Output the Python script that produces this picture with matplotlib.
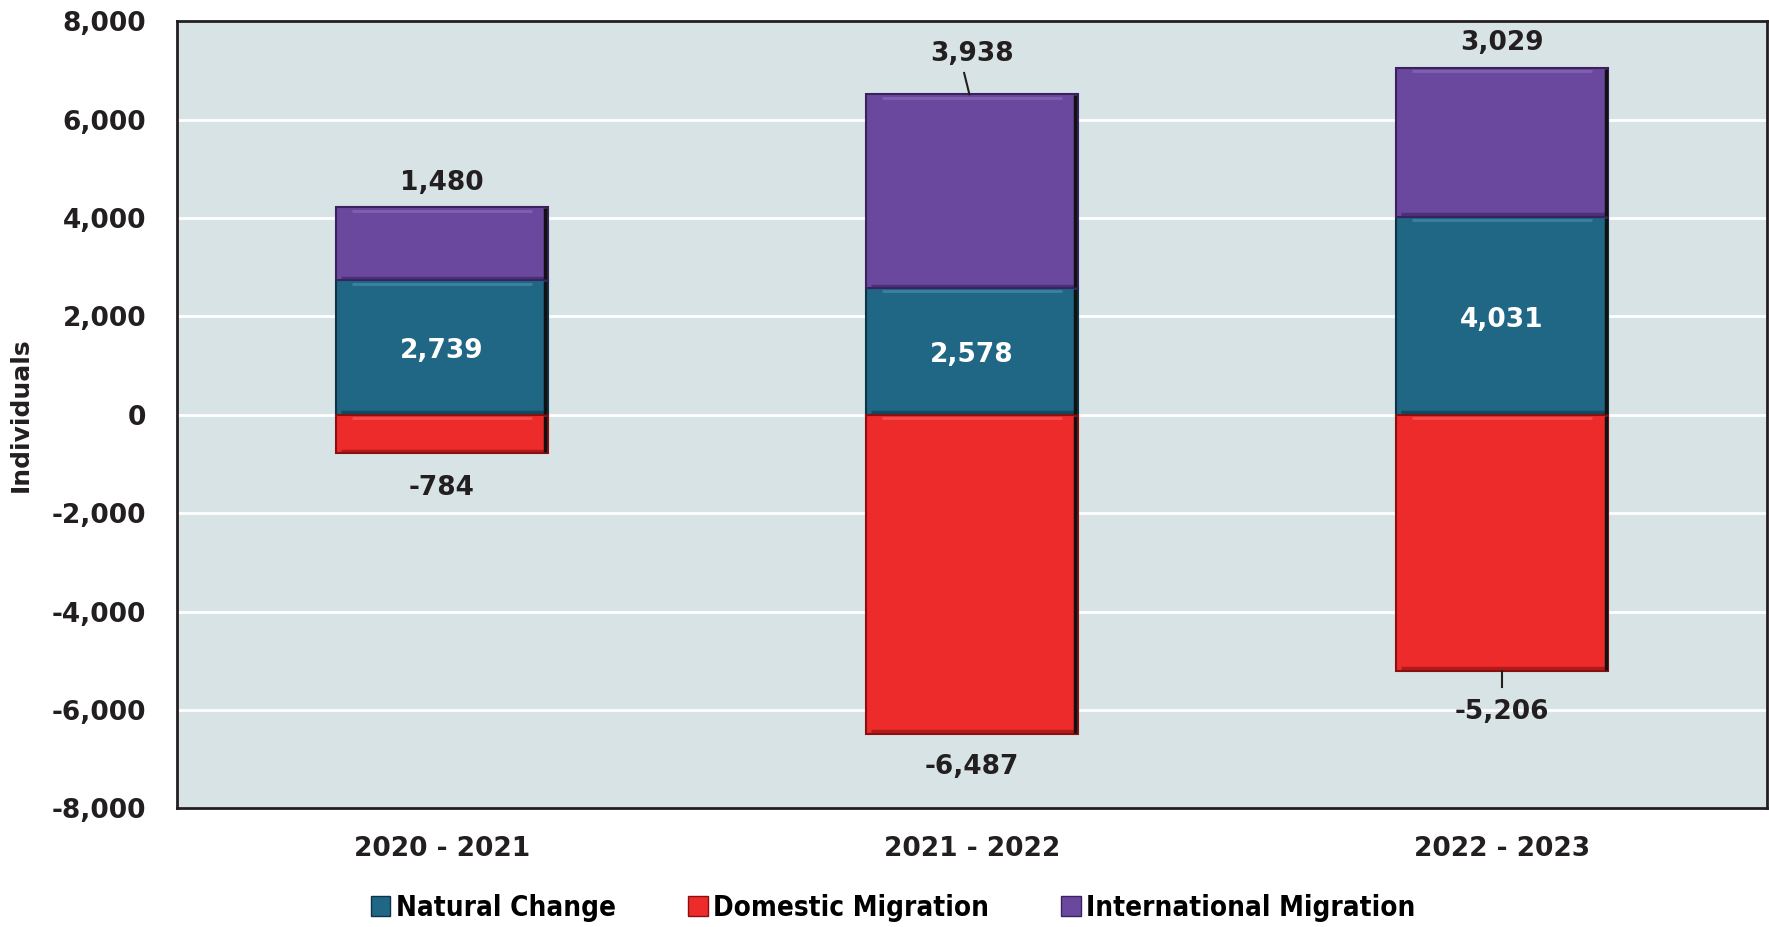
import numpy as np
import matplotlib.pyplot as plt
from matplotlib.patches import Patch

periods = ['2020 - 2021', '2021 - 2022', '2022 - 2023']
natural = [2739, 2578, 4031]
domestic = [-784, -6487, -5206]
international = [1480, 3938, 3029]

c_nat = '#1f6785'
c_dom = '#ee2b2b'
c_int = '#6a489d'
bg = '#d7e3e4'
ink = '#231f20'

plt.rcParams['font.family'] = ['DejaVu Sans']
plt.rcParams['font.weight'] = 'bold'

fig = plt.figure(figsize=(17.69, 9.27), dpi=100)
ax = fig.add_axes([0.100, 0.128, 0.899, 0.849])
ax.set_facecolor(bg)

x = np.arange(len(periods))
w = 0.40


def bevel(bars, dark, light):
    for b in bars:
        b.set_edgecolor(dark)
        b.set_linewidth(1.5)
        bx, by = b.get_x(), b.get_y()
        bw, bh = b.get_width(), b.get_height()
        lo, hi = min(by, by + bh), max(by, by + bh)
        # faint highlight near the top edge
        ax.plot([bx + 0.03, bx + bw - 0.03], [hi - 70, hi - 70],
                color=light, lw=2, alpha=0.45, zorder=4, solid_capstyle='butt')
        # darker shade along bottom and right side
        ax.plot([bx + 0.01, bx + bw - 0.006], [lo + 50, lo + 50],
                color=dark, lw=2.5, alpha=0.6, zorder=4, solid_capstyle='butt')
        ax.plot([bx + bw - 0.005, bx + bw - 0.005], [lo + 20, hi - 20],
                color='#111111', lw=2.5, zorder=4, solid_capstyle='butt')


b_nat = ax.bar(x, natural, w, color=c_nat, zorder=3)
b_int = ax.bar(x, international, w, bottom=natural, color=c_int, zorder=3)
b_dom = ax.bar(x, domestic, w, color=c_dom, zorder=3)
bevel(b_nat, '#0d3446', '#5ea3bd')
bevel(b_int, '#3a2260', '#9b80c9')
bevel(b_dom, '#8a1010', '#f77a7a')

ax.set_ylim(-8000, 8000)
ax.set_xlim(-0.5, 2.5)
ax.set_yticks(np.arange(-8000, 8001, 2000))
ax.yaxis.set_major_formatter(plt.FuncFormatter(lambda v, p: '{:,.0f}'.format(v)))
ax.set_xticks(x)
ax.set_xticklabels(periods)
ax.tick_params(axis='both', length=0, labelsize=19, colors=ink)
ax.tick_params(axis='x', pad=20)
ax.tick_params(axis='y', pad=22)
ax.grid(axis='y', color='white', lw=2, zorder=0)
for s in ax.spines.values():
    s.set_color(ink)
    s.set_linewidth(2)
ax.set_ylabel('Individuals', fontsize=18, fontweight='bold', color=ink, labelpad=14)

# value labels
top_pos = [4720, 7335, 7565]
bot_pos = [-1495, -7161, -6037]
for i in range(len(periods)):
    ax.text(x[i], natural[i] / 2 - 80, '{:,}'.format(natural[i]), ha='center', va='center',
            color='white', fontsize=19, fontweight='bold', zorder=5)
    ax.text(x[i], top_pos[i], '{:,}'.format(international[i]), ha='center', va='center',
            color=ink, fontsize=19, fontweight='bold', zorder=5)
    ax.text(x[i], bot_pos[i], '{:,}'.format(domestic[i]), ha='center', va='center',
            color=ink, fontsize=19, fontweight='bold', zorder=5)

# leader lines
ax.plot([x[1] - 0.005, x[1] - 0.015], [natural[1] + international[1], 6950], color=ink, lw=1.5, zorder=5)
ax.plot([x[2], x[2]], [domestic[2], -5530], color=ink, lw=1.5, zorder=5)

handles = [Patch(facecolor=c_nat, edgecolor='#0d3446', label='Natural Change'),
           Patch(facecolor=c_dom, edgecolor='#8a1010', label='Domestic Migration'),
           Patch(facecolor=c_int, edgecolor='#3a2260', label='International Migration')]
fig.legend(handles=handles, loc='center', bbox_to_anchor=(0.505, 0.021), ncol=3, frameon=False,
           prop={'size': 20, 'weight': 'bold', 'stretch': 'condensed', 'family': 'DejaVu Sans'},
           handlelength=0.7, handleheight=0.7, handletextpad=0.2, columnspacing=2.6)

fig.savefig('out.png', dpi=100)
